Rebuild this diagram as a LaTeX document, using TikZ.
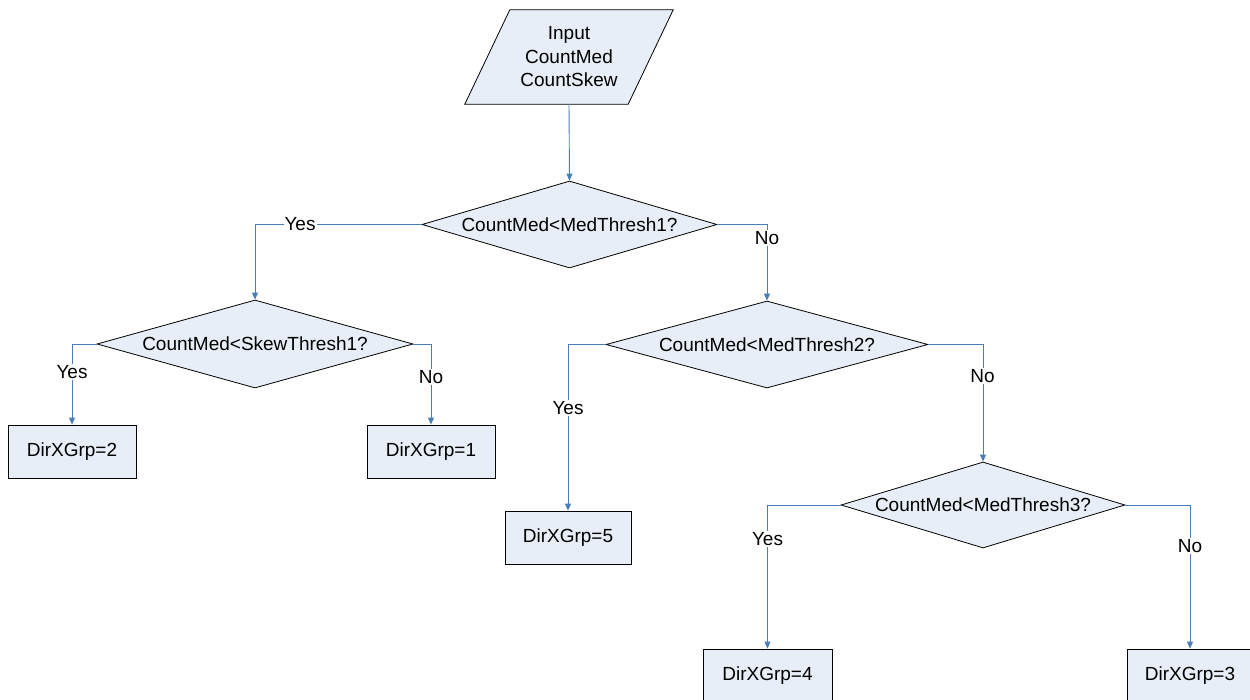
\documentclass[tikz,border=0pt]{standalone}
\usepackage{fontspec}
\setmainfont{Liberation Sans}
\usetikzlibrary{shapes.geometric,arrows.meta,backgrounds}
\definecolor{boxfill}{RGB}{232,238,247}
\definecolor{linkblue}{RGB}{74,126,187}
\begin{document}
\begin{tikzpicture}[x=1pt,y=-1pt,
  every node/.style={font=\fontsize{19}{23.5}\selectfont},
  decision/.style={shape=diamond, draw=black, line width=0.8pt, fill=boxfill, inner sep=0pt, aspect=3.6},
  resultbox/.style={shape=rectangle, draw=black, line width=0.8pt, fill=boxfill, inner sep=0pt, minimum width=128pt, minimum height=53pt},
  link/.style={draw=linkblue, line width=0.9pt, -{Triangle[length=7pt,width=6pt]}},
  lbl/.style={fill=white, inner sep=1pt}]
\clip (0,0) rectangle (1250,700);
% input parallelogram
\node[inner sep=0pt, minimum width=163pt, minimum height=94pt, align=center] (in) at (569,57) {Input\\CountMed\\CountSkew};
\begin{scope}[on background layer]
\fill[white] (0,0) rectangle (1250,700);
\draw[line width=0.8pt, fill=boxfill] ([xshift=-22.5pt]in.south west) -- ([xshift=-22.5pt]in.south east) -- ([xshift=22.5pt]in.north east) -- ([xshift=22.5pt]in.north west) -- cycle;
\end{scope}
% decisions
\node[decision, minimum width=295pt, minimum height=87pt] (d1) at (569.5,224.5) {CountMed<MedThresh1?};
\node[decision, minimum width=316pt, minimum height=88pt] (d2) at (255,344) {CountMed<SkewThresh1?};
\node[decision, minimum width=322pt, minimum height=87pt] (d3) at (767,344.5) {CountMed<MedThresh2?};
\node[decision, minimum width=284pt, minimum height=86pt] (d4) at (983,505) {CountMed<MedThresh3?};
% results
\node[resultbox] (b2) at (72,451.5) {DirXGrp=2};
\node[resultbox] (b1) at (431,451.5) {DirXGrp=1};
\node[resultbox, minimum width=126pt] (b5) at (568,537.5) {DirXGrp=5};
\node[resultbox, minimum width=129pt] (b4) at (767.5,675.5) {DirXGrp=4};
\node[resultbox, minimum width=126pt] (b3) at (1190,675.5) {DirXGrp=3};
% connectors
\draw[link] (in.south) -- (d1.north);
\draw[link] (d1.west) -| (d2.north);
\draw[link] (d1.east) -| (d3.north);
\draw[link] (d2.west) -| (b2.north);
\draw[link] (d2.east) -| (b1.north);
\draw[link] (d3.west) -| (b5.north);
\draw[link] (d3.east) -| (d4.north);
\draw[link] (d4.west) -| (b4.north);
\draw[link] (d4.east) -| (b3.north);
% labels
\node[lbl] (y1) at (300,224) {Yes};
\node[lbl] (n1) at (767,238) {No};
\node[lbl] (y2) at (72,372) {Yes};
\node[lbl] (n2) at (431,377) {No};
\node[lbl] (y3) at (568,408) {Yes};
\node[lbl] (n3) at (982.5,376) {No};
\node[lbl] (y4) at (767.5,539) {Yes};
\node[lbl] (n4) at (1190,546) {No};
\end{tikzpicture}
\end{document}
